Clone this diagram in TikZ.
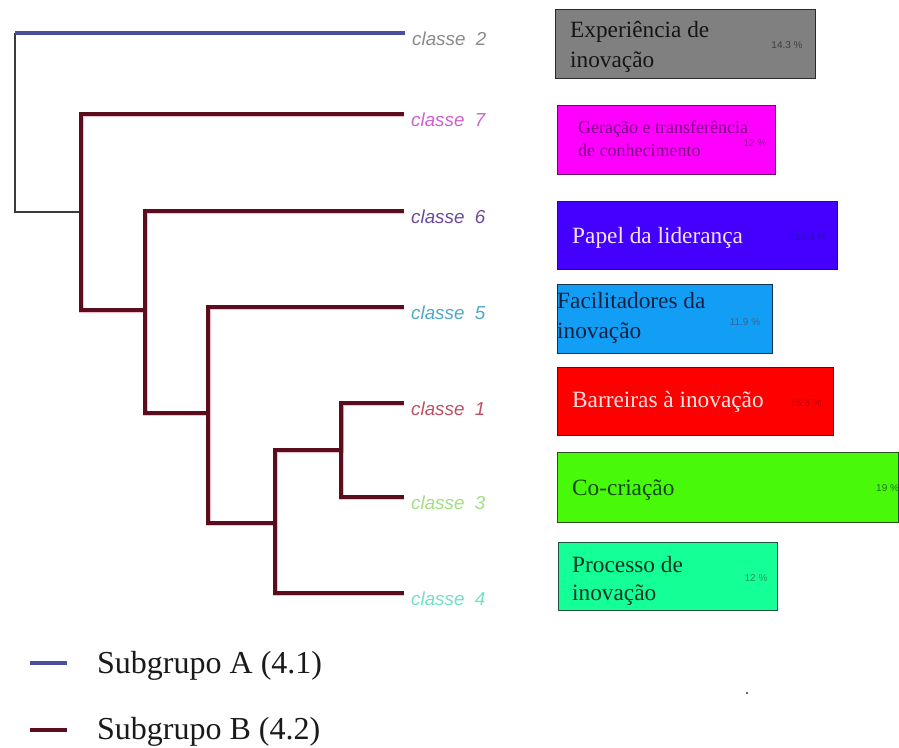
\documentclass[tikz,border=0pt]{standalone}
\usepackage{fontspec}
\setmainfont{Liberation Serif}
\setsansfont{Liberation Sans}
\begin{document}
\begin{tikzpicture}[x=1pt,y=-1pt,
  treeB/.style={draw=treeMaroon,line width=3.8pt,line join=miter,line cap=butt},
  treeHalo/.style={draw=haloRed,line width=5pt,line join=miter,opacity=0.35},
  treeA/.style={draw=treeBlue,line width=3.4pt,line cap=butt},
  rootline/.style={draw=rootGray,line width=1.3pt},
  leaflabel/.style={anchor=base west,inner sep=0pt,font=\sffamily\itshape\fontsize{18.8}{20}\selectfont},
  catbox/.style={draw,line width=1.3pt,minimum width=#1,minimum height=68pt,anchor=north west,inner sep=0pt},
  boxtext/.style={anchor=base west,inner sep=0pt,font=\fontsize{23.3}{27}\selectfont},
  smalltext/.style={anchor=base west,inner sep=0pt,font=\fontsize{18}{21}\selectfont},
  pct/.style={inner sep=0pt,font=\sffamily\fontsize{10}{11}\selectfont},
  legendtext/.style={anchor=base west,inner sep=0pt,font=\fontsize{32}{34}\selectfont,text=legendInk},
  legendline/.style={line width=4pt}
]
\definecolor{treeMaroon}{HTML}{5A0D1C}
\definecolor{haloRed}{HTML}{E04060}
\definecolor{treeBlue}{HTML}{4A4F9A}
\definecolor{rootGray}{HTML}{3A3A3A}
\definecolor{legendInk}{HTML}{1A1A1A}
\definecolor{c2}{HTML}{8A8A8A}
\definecolor{c7}{HTML}{D060D0}
\definecolor{c6}{HTML}{6A4AA0}
\definecolor{c5}{HTML}{50A8C8}
\definecolor{c1}{HTML}{C05060}
\definecolor{c3}{HTML}{A0E080}
\definecolor{c4}{HTML}{70E0C8}
% box fills, borders and inks
\definecolor{expFill}{HTML}{808080}
\definecolor{expLine}{HTML}{2A2A2A}
\definecolor{expInk}{HTML}{151515}
\definecolor{gerFill}{HTML}{FF00FF}
\definecolor{gerLine}{HTML}{6A0A6A}
\definecolor{gerInk}{HTML}{7A0A80}
\definecolor{gerPct}{HTML}{9A109A}
\definecolor{papFill}{HTML}{4400FF}
\definecolor{papLine}{HTML}{2A0A80}
\definecolor{papInk}{HTML}{F8E2F8}
\definecolor{papPct}{HTML}{3010B0}
\definecolor{facFill}{HTML}{129EF5}
\definecolor{facLine}{HTML}{143250}
\definecolor{facInk}{HTML}{102040}
\definecolor{facPct}{HTML}{3C6496}
\definecolor{barFill}{HTML}{FF0000}
\definecolor{barLine}{HTML}{600A0A}
\definecolor{barInk}{HTML}{FFE4E4}
\definecolor{barPct}{HTML}{B00010}
\definecolor{coFill}{HTML}{48FA0A}
\definecolor{coLine}{HTML}{28501E}
\definecolor{coInk}{HTML}{0E460E}
\definecolor{coPct}{HTML}{1E7814}
\definecolor{proFill}{HTML}{14FF96}
\definecolor{proLine}{HTML}{1E503C}
\definecolor{proInk}{HTML}{0E3224}
\definecolor{proPct}{HTML}{1E965A}

\useasboundingbox[fill=white] (0,0) rectangle (899,747);

% ---------- dendrogram: leaf ends and internal joints ----------
\coordinate (root) at (15,33);
\coordinate (l2) at (405,33);
\coordinate (l7) at (404,114);
\coordinate (l6) at (404,211);
\coordinate (l5) at (404,307);
\coordinate (l1) at (404,403);
\coordinate (l3) at (404,497);
\coordinate (l4) at (404,593);
\coordinate (jB) at (81,212);    % joint of subgroup B
\coordinate (j6) at (145,310);
\coordinate (j5) at (208,413);
\coordinate (j4) at (275,523);
\coordinate (j13) at (341,450);

% leaf labels
\node[leaflabel,text=c2] (n2) at (412,45) {classe\hspace{0.55em}2};
\node[leaflabel,text=c7] (n7) at (411,126) {classe\hspace{0.55em}7};
\node[leaflabel,text=c6] (n6) at (411,223) {classe\hspace{0.55em}6};
\node[leaflabel,text=c5] (n5) at (411,319) {classe\hspace{0.55em}5};
\node[leaflabel,text=c1] (n1) at (411,415) {classe\hspace{0.55em}1};
\node[leaflabel,text=c3] (n3) at (411,509) {classe\hspace{0.55em}3};
\node[leaflabel,text=c4] (n4) at (411,605) {classe\hspace{0.55em}4};

% root connector
\draw[rootline] (root) |- (jB);

% subgroup B branches (soft red halo under the maroon stroke)
\foreach \s in {treeHalo,treeB}{
  \draw[\s] (l7) -| (jB |- j6) -- (j6);
  \draw[\s] (l6) -| (j6 |- j5) -- (j5);
  \draw[\s] (l5) -| (j5 |- j4) -- (j4);
  \draw[\s] (j13 |- l1) |- (j4 |- j13) |- (l4);
  \draw[\s] (l1) -| (j13) |- (l3);
}
\draw[treeB] (jB |- l7) -- (jB |- j6);

% subgroup A branch
\draw[treeA] (root) -- (l2);

% ---------- category boxes ----------
\node[catbox=260pt,minimum height=69pt,draw=expLine,fill=expFill] (bExp) at (555,9) {};
\node[boxtext,text=expInk] (tExpA) at (570,37) {Experiência de};
\node[boxtext,text=expInk] (tExpB) at (570,67) {inovação};
\node[pct,text=black!75] (pExp) at (787,45) {14.3 \%};

\node[catbox=218pt,minimum height=69pt,draw=gerLine,fill=gerFill] (bGer) at (557,105) {};
\node[smalltext,text=gerInk] (tGerA) at (578,133) {Geração e transferência};
\node[smalltext,text=gerInk] (tGerB) at (578,156) {de conhecimento};
\node[pct,text=gerPct] (pGer) at (755,143) {12 \%};

\node[catbox=280pt,draw=papLine,fill=papFill] (bPap) at (557,201) {};
\node[boxtext,text=papInk] (tPap) at (572,243) {Papel da liderança};
\node[pct,text=papPct] (pPap) at (811,237) {15.4 \%};

\node[catbox=215pt,minimum height=69pt,draw=facLine,fill=facFill] (bFac) at (557,284) {};
\node[boxtext,text=facInk] (tFacA) at (557,308) {Facilitadores da};
\node[boxtext,text=facInk] (tFacB) at (557,338) {inovação};
\node[pct,text=facPct] (pFac) at (745,322) {11.9 \%};

\node[catbox=276pt,draw=barLine,fill=barFill] (bBar) at (557,367) {};
\node[boxtext,text=barInk] (tBar) at (572,407) {Barreiras à inovação};
\node[pct,text=barPct] (pBar) at (806,403) {15.3 \%};

\node[catbox=341pt,minimum height=70pt,draw=coLine,fill=coFill] (bCo) at (557,452) {};
\node[boxtext,text=coInk] (tCo) at (572,495) {Co-criação};
\node[pct,anchor=west,text=coPct] (pCo) at (876,488) {19 \%};

\node[catbox=219pt,draw=proLine,fill=proFill] (bPro) at (558,542) {};
\node[boxtext,text=proInk] (tProA) at (572,572) {Processo de};
\node[boxtext,text=proInk] (tProB) at (572,600) {inovação};
\node[pct,text=proPct] (pPro) at (756,578) {12 \%};

% ---------- legend ----------
\coordinate (kA0) at (30,663);
\coordinate (kA1) at (67,663);
\coordinate (kB0) at (30,730);
\coordinate (kB1) at (67,730);
\draw[legendline,treeBlue] (kA0) -- (kA1);
\draw[legendline,treeMaroon] (kB0) -- (kB1);
\node[legendtext] (gA) at (97,673) {Subgrupo A (4.1)};
\node[legendtext] (gB) at (97,739) {Subgrupo B (4.2)};

% stray dot
\fill[black!80] (747,693) circle (1.1pt);
\end{tikzpicture}
\end{document}
